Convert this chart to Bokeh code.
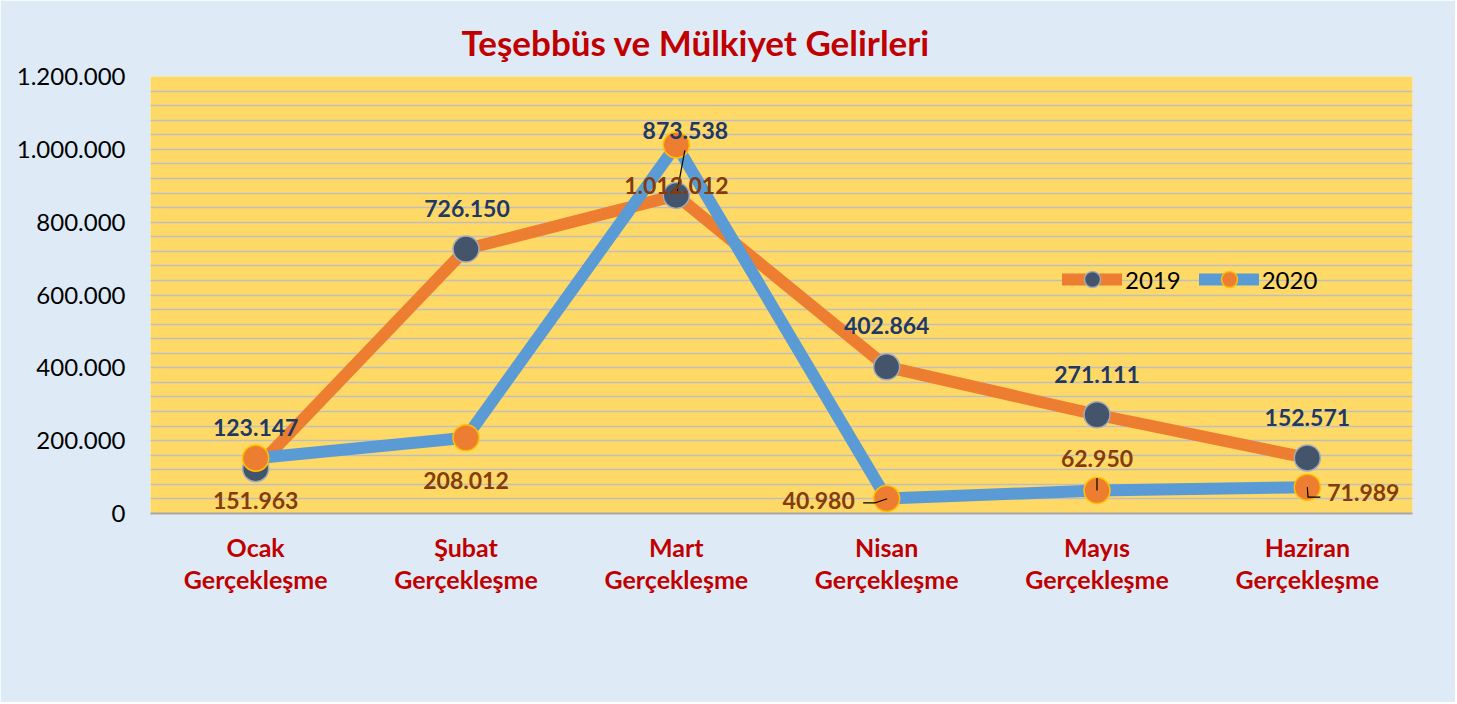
from bokeh.plotting import figure
from bokeh.models import (FactorRange, Range1d, ColumnDataSource, Legend,
                          LegendItem, SingleIntervalTicker, FixedTicker, CustomJSTickFormatter)
from bokeh.core.properties import value
from bokeh.embed import file_html
from bokeh.resources import INLINE

# ---------------- data ----------------
title_text = "Teşebbüs ve Mülkiyet Gelirleri"
months = ["Ocak", "Şubat", "Mart", "Nisan", "Mayıs", "Haziran"]
suffix = "Gerçekleşme"
series_names = ["2019", "2020"]
v2019 = [123147, 726150, 873538, 402864, 271111, 152571]
v2020 = [151963, 208012, 1012012, 40980, 62950, 71989]
y_ticks = [0, 200000, 400000, 600000, 800000, 1000000, 1200000]
y_max = 1200000
grid_step = 40000

# ---------------- layout / style ----------------
W, H = 1455, 702
L, T = 150, 76
FW, FH = 1262, 437
R, B = W - L - FW, H - T - FH
px_x = len(months) / FW
px_y = y_max / FH

FONT = "Lato"
C19_LINE, C19_MARK, C19_EDGE, C19_TEXT = "#ED7D31", "#44546A", "#A3ACB9", "#1F3864"
C20_LINE, C20_MARK, C20_EDGE, C20_TEXT = "#5B9BD5", "#ED7D31", "#FFC000", "#843C0C"
RED = "#C00000"

# label offsets in screen px (dx right, dy down)
off19 = [(0, -41), (1, -41), (9, -65), (0, -41), (0, -40), (0, -40)]
off20 = [(0, 42), (0, 43), (0, 41), (-68, 2), (0, -32), (56, 5)]
# leader lines (index of 2020 point, list of px offsets)
leaders = [(2, [(8.5, 5.5), (0.9, 46.2)]),
           (3, [(-23.5, 4.2), (-11.2, 4.2), (0.5, 0.2)]),
           (4, [(0, -12.7), (0, 0)]),
           (5, [(0, 0), (0.7, 9.9), (13, 9.9)])]


def fmt(v):
    return f"{v:,}".replace(",", ".")


factors = [f"{m}\n{suffix}" for m in months]

p = figure(width=W, height=H, x_range=FactorRange(*factors), y_range=Range1d(0, y_max),
           output_backend="svg", toolbar_location=None,
           min_border_left=L, min_border_right=R, min_border_top=T, min_border_bottom=B)
p.background_fill_color = "#FFD966"
p.border_fill_color = "#DEEBF7"
p.outline_line_color = None

# title
p.title.text = title_text
p.title.align = "left"
p.title.offset = 311
p.title.text_font = FONT
p.title.text_font_style = "bold"
p.title.text_font_size = "35px"
p.title.text_color = RED
p.title.standoff = 28

p.xgrid.visible = False
p.ygrid.ticker = SingleIntervalTicker(interval=grid_step, num_minor_ticks=0)
p.ygrid.grid_line_color = "#BFBFBF"
p.ygrid.grid_line_width = 1.3

p.yaxis.ticker = FixedTicker(ticks=y_ticks)
p.yaxis.formatter = CustomJSTickFormatter(
    code="return Math.round(tick).toString().replace(/\\B(?=(\\d{3})+(?!\\d))/g, '.');")
p.yaxis.axis_line_color = None
p.yaxis.major_tick_line_color = None
p.yaxis.minor_tick_line_color = None
p.yaxis.major_tick_out = 0
p.yaxis.major_tick_in = 0
p.yaxis.minor_tick_out = 0
p.yaxis.major_label_text_font = FONT
p.yaxis.major_label_text_font_size = "24px"
p.yaxis.major_label_text_color = "#000000"
p.yaxis.major_label_standoff = 25

p.xaxis.axis_line_color = "#A6A6A6"
p.xaxis.axis_line_width = 2
p.xaxis.major_tick_line_color = None
p.xaxis.minor_tick_line_color = None
p.xaxis.major_tick_out = 0
p.xaxis.major_tick_in = 0
p.xaxis.major_label_text_font = FONT
p.xaxis.major_label_text_font_style = "bold"
p.xaxis.major_label_text_font_size = "25px"
p.xaxis.major_label_text_color = RED
p.xaxis.major_label_text_line_height = 1.07
p.xaxis.major_label_standoff = 18

# ---------------- series ----------------
src = ColumnDataSource(dict(m=factors, v19=v2019, v20=v2020))
l19 = p.line("m", "v19", source=src, line_color=C19_LINE, line_width=12, line_cap="round", line_join="round")
s19 = p.scatter("m", "v19", source=src, size=26, fill_color=C19_MARK, line_color=C19_EDGE, line_width=1.5)
l20 = p.line("m", "v20", source=src, line_color=C20_LINE, line_width=12, line_cap="round", line_join="round")
s20 = p.scatter("m", "v20", source=src, size=26, fill_color=C20_MARK, line_color=C20_EDGE, line_width=1.5)

# leader lines
lx, ly = [], []
for i, pts in leaders:
    lx.append([i + 0.5 + dx * px_x for dx, dy in pts])
    ly.append([v2020[i] - dy * px_y for dx, dy in pts])
p.multi_line(lx, ly, line_color="#000000", line_width=1.2)

# data labels
lab19 = ColumnDataSource(dict(
    x=[i + 0.5 + off19[i][0] * px_x for i in range(len(months))],
    y=[v2019[i] - off19[i][1] * px_y for i in range(len(months))],
    t=[fmt(v) for v in v2019]))
lab20 = ColumnDataSource(dict(
    x=[i + 0.5 + off20[i][0] * px_x for i in range(len(months))],
    y=[v2020[i] - off20[i][1] * px_y for i in range(len(months))],
    t=[fmt(v) for v in v2020]))
for s, c in ((lab19, C19_TEXT), (lab20, C20_TEXT)):
    p.text("x", "y", text="t", source=s, text_font=value(FONT), text_font_style="bold",
           text_font_size="23px", text_color=c, text_align="center", text_baseline="middle")

# legend
legend = Legend(items=[LegendItem(label=series_names[0], renderers=[l19, s19]),
                       LegendItem(label=series_names[1], renderers=[l20, s20])],
                location=(912, 214), orientation="horizontal",
                glyph_width=60, glyph_height=40, label_standoff=3, spacing=18,
                padding=0, margin=0, background_fill_alpha=0, border_line_color=None,
                label_text_font=FONT, label_text_font_size="24px", label_text_color="#000000")
p.add_layout(legend, "center")

open("out.html", "w").write(file_html(p, INLINE))
